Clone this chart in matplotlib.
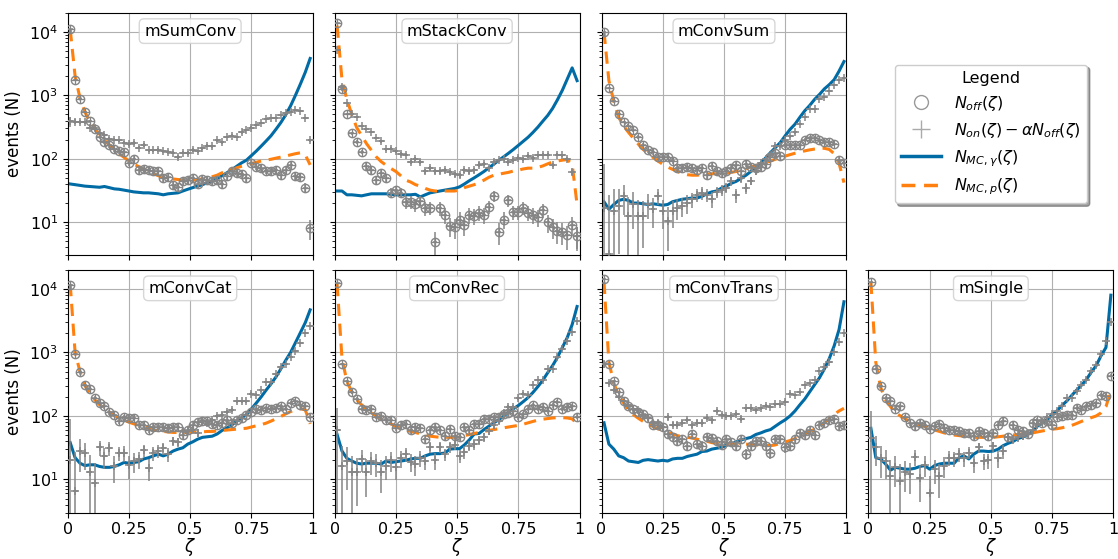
import matplotlib
matplotlib.use('Agg')

import numpy as np
import matplotlib.pyplot as plt
from matplotlib.lines import Line2D

# bin centres of zeta (50 bins)
zeta = np.linspace(0.01, 0.99, 50)
half_bin = 0.01

names = ['mSumConv', 'mStackConv', 'mConvSum', 'mConvCat', 'mConvRec', 'mConvTrans', 'mSingle']

# ---- mSumConv
sumconv_off = [11000, 1760, 860, 550, 390, 295, 220, 182, 162, 141, 131, 126, 85, 100, 66, 69, 66, 64, 64, 50,
               52, 38, 36, 44, 46, 49, 40, 48, 47, 44, 47, 40, 54, 63, 60, 58, 49, 86, 75, 71,
               65, 63, 66, 56, 66, 80, 54, 52, 35, 8]
sumconv_diff = [390, 385, 380, 375, 310, 300, 250, 240, 205, 200, 195, 180, 170, 178, 150, 165, 135, 135, 138, 130,
                128, 125, 108, 125, 125, 137, 130, 145, 160, 157, 194, 183, 220, 230, 220, 260, 285, 310, 340, 370,
                420, 445, 445, 490, 520, 540, 590, 565, 445, 195]
sumconv_gamma = [40, 39, 38, 37, 36.5, 36, 35.5, 36.5, 35, 33.5, 33, 32, 31, 30, 29.5, 29, 29, 28.5, 28, 27,
                 28, 28.5, 29, 31, 33, 35, 37, 39, 42, 45, 49, 54, 60, 67, 76, 86, 95, 112, 132, 158,
                 190, 230, 290, 370, 490, 680, 1000, 1500, 2300, 3800]
sumconv_p = [11000, 2000, 900, 550, 380, 300, 240, 195, 165, 140, 120, 105, 92, 82, 75, 68, 63, 58, 54, 51,
             49, 48, 47, 46, 46, 46, 47, 48, 49, 52, 55, 60, 64, 68, 72, 76, 80, 84, 88, 92,
             95, 98, 102, 106, 110, 115, 120, 124, 115, 80]

# ---- mStackConv
stackconv_off = [14000, 1260, 505, 252, 182, 128, 76, 66, 47, 59, 49, 29, 32, 29, 21, 21, 19, 21.5, 16.5, 17,
                 4.9, 16.5, 13, 8.8, 8.3, 11, 9, 13, 12.5, 14, 13, 17.5, 26, 7, 11, 22, 14.5, 14.5, 17, 14,
                 13, 12, 15.5, 10, 8.3, 7.3, 7, 6.2, 9, 6]
stackconv_diff = [5100, 1350, 760, 505, 450, 325, 295, 263, 212, 187, 141, 144, 131, 120, 116, 90, 100, 90, 64, 71,
                  63, 63, 66, 61, 57, 55, 66, 64, 66, 81, 84, 71, 90, 94, 100, 90, 95, 102, 100, 110,
                  102, 113, 116, 116, 79, 116, 113, 100, 61, 6]
stackconv_gamma = [31, 31, 27, 27, 26.5, 26, 27, 28, 28, 28, 28, 27.5, 27, 27, 27, 27, 27.5, 25, 27, 29,
                   30, 31, 32, 33, 34, 36, 40, 45, 50, 56, 63, 72, 82, 94, 107, 122, 140, 162, 188, 218,
                   260, 315, 390, 480, 620, 850, 1200, 1800, 2700, 1700]
stackconv_p = [12500, 1750, 860, 500, 310, 232, 173, 136, 107, 90, 79, 70, 63, 54, 46, 43, 39, 37, 34, 32,
               31, 31, 31, 31, 31, 32, 35, 37, 39, 42, 46, 51, 55, 57, 59, 61, 64, 66, 69, 71,
               71, 73, 77, 83, 89, 92, 95, 97, 82, 19]

# ---- mConvSum
convsum_off = [10000, 1300, 810, 505, 380, 330, 280, 218, 166, 135, 127, 107, 107, 107, 93, 71, 71, 75, 71, 66,
               72, 55, 78, 63, 59, 63, 71, 79, 64, 84, 75, 71, 75, 84, 107, 125, 110, 162, 162, 162,
               162, 195, 210, 210, 195, 183, 183, 173, 95, 85]
convsum_diff = [17, 3.2, 15, 18, 26, 12.6, 19, 12.6, 12.6, 19.5, 16, 26, 15, 10.5, 15, 17, 18, 20, 23, 27,
                29, 27, 23, 30, 32, 35, 44, 27, 49, 35, 45, 63, 85, 100, 113, 160, 160, 195, 225, 262,
                350, 450, 600, 600, 880, 950, 1160, 1470, 1760, 1870]
convsum_gamma = [21, 16, 19, 22, 23, 22, 20, 20, 19.5, 19, 19.5, 19, 18.5, 19, 21, 22, 23, 23.5, 24, 24,
                 25.5, 28, 30, 31, 34.5, 37, 41, 44, 49, 55, 63, 73, 85, 103, 125, 150, 180, 230, 290, 350,
                 450, 570, 690, 860, 1030, 1260, 1470, 1760, 2400, 3400]
convsum_p = [10000, 1700, 800, 450, 330, 260, 210, 170, 140, 120, 105, 92, 82, 74, 68, 63, 58, 56, 55, 55,
             56, 57, 58, 58, 58, 59, 61, 63, 66, 70, 74, 78, 82, 87, 92, 98, 104, 110, 116, 122,
             128, 133, 138, 142, 145, 146, 140, 120, 85, 42]

# ---- mConvCat
convcat_off = [11500, 950, 490, 305, 270, 190, 160, 141, 115, 105, 83, 95, 93, 93, 73, 71, 61, 66, 66, 66,
               64, 66, 66, 51, 59, 71, 80, 82, 82, 75, 73, 78, 87, 78, 87, 93, 105, 117, 129, 124,
               132, 129, 132, 141, 129, 160, 170, 150, 141, 98]
convcat_diff = [20, 6.6, 28, 26, 13, 8.8, 32, 23, 31, 16, 26, 26, 17, 19.5, 21, 29, 15, 26, 28, 31,
                25, 40, 39, 58, 58, 61, 54, 83, 78, 85, 100, 105, 117, 124, 170, 170, 170, 225, 215, 255,
                345, 345, 465, 590, 660, 840, 1070, 1400, 2050, 2600]
convcat_gamma = [38, 22, 18, 16.5, 17, 17, 16, 15.5, 15.5, 16, 17, 18.5, 18, 18.5, 19, 21, 22, 23.5, 25, 23.5,
                 25, 28, 30, 31.5, 36, 39, 43, 46, 47, 48, 52, 59, 65, 72, 83, 93, 106, 129, 160, 200,
                 255, 320, 410, 550, 750, 1000, 1430, 2050, 2950, 4700]
convcat_p = [12000, 1000, 500, 300, 230, 180, 150, 130, 115, 102, 92, 85, 80, 75, 71, 68, 64, 60, 58, 57,
             56, 55, 55, 55, 55, 56, 56, 56, 57, 57, 58, 59, 60, 61, 62, 63, 64, 67, 70, 73,
             77, 83, 90, 98, 108, 117, 126, 130, 125, 75]

# ---- mConvRec
convrec_off = [12500, 660, 355, 240, 185, 130, 125, 130, 98, 100, 87, 87, 65, 73, 75, 59, 68, 65, 44, 59,
               68, 61, 48, 63, 48, 46, 66, 61, 75, 75, 91, 91, 95, 98, 107, 112, 118, 95, 107, 130,
               148, 130, 140, 120, 148, 168, 130, 140, 145, 98]
convrec_diff = [61, 16.5, 19.5, 13, 13, 21, 13, 19.5, 18, 13, 16.5, 20, 15.5, 21.5, 25, 19, 17.5, 22, 19.5, 32,
                20, 32, 25, 32, 35, 23.5, 27.5, 34, 36, 42, 46, 58, 71, 83, 110, 140, 140, 190, 225, 215,
                310, 365, 365, 550, 550, 840, 1130, 1520, 2100, 3100]
convrec_gamma = [51, 28, 21.5, 19.5, 18, 17.5, 18, 18, 18, 17.5, 19.5, 18.5, 19, 19.5, 20, 21, 21.5, 21.5, 23.5, 25,
                 25.5, 25.5, 26, 30, 30.5, 30.5, 35, 42, 52, 53, 61, 69, 78, 87, 100, 114, 130, 146, 168, 195,
                 235, 290, 365, 480, 620, 840, 1200, 1720, 2750, 5300]
convrec_p = [12000, 800, 350, 240, 180, 150, 128, 112, 100, 90, 82, 75, 68, 63, 60, 57, 55, 52, 50, 48,
             47, 46, 46, 46, 46, 47, 49, 51, 53, 55, 57, 59, 61, 63, 65, 67, 69, 71, 74, 78,
             82, 86, 89, 91, 93, 94, 94, 93, 90, 75]

# ---- mConvTrans
convtrans_off = [14600, 660, 355, 235, 173, 141, 130, 117, 107, 93, 73, 71, 66, 52, 46, 40, 43, 34, 52, 36,
                 34, 46, 45, 40, 35, 43, 39, 34, 43, 25, 34, 40, 40, 34, 26, 43, 43, 32, 34, 43,
                 54, 51, 59, 51, 73, 78, 87, 90, 69, 73]
convtrans_diff = [660, 330, 255, 200, 170, 150, 130, 125, 100, 94, 78, 78, 66, 95, 73, 73, 78, 87, 71, 78,
                  78, 93, 85, 120, 105, 100, 100, 108, 91, 132, 132, 125, 132, 145, 140, 152, 152, 168, 225, 215,
                  235, 305, 325, 365, 520, 590, 700, 1000, 1470, 2000]
convtrans_gamma = [78, 36, 30, 23.5, 22, 19.5, 19, 18.5, 20, 20.5, 20, 19.5, 20, 19.5, 21, 21.5, 21.5, 23, 24, 25,
                   27.5, 28, 30, 31, 32, 34.5, 36, 39, 42, 44, 46, 51, 54, 58, 61, 69, 78, 87, 100, 120,
                   150, 185, 240, 310, 400, 550, 800, 1270, 2300, 6300]
convtrans_p = [13000, 700, 330, 210, 160, 125, 105, 92, 82, 74, 68, 63, 59, 55, 52, 49, 47, 46, 45, 43,
               41, 40, 38, 37, 36, 36, 36, 36, 36, 36, 35.5, 35, 35, 34.5, 34, 35, 37, 39, 41, 44,
               47, 51, 56, 62, 69, 78, 90, 105, 120, 132]

# ---- mSingle
single_off = [13000, 550, 295, 195, 170, 130, 141, 95, 78, 69, 78, 73, 63, 69, 75, 64, 61, 61, 58, 54,
              54, 48, 58, 54, 48, 54, 73, 83, 47, 71, 61, 58, 52, 78, 85, 78, 82, 71, 95, 100,
              105, 105, 135, 125, 141, 150, 160, 215, 205, 430]
single_diff = [45, 32, 22, 19.5, 11.5, 15.5, 9.6, 13, 12, 22.5, 10.5, 17, 6, 14.5, 11.2, 16.5, 22, 21.5, 25, 21.5,
               26.5, 18, 32, 19.5, 20, 33.5, 21.5, 28, 47, 43, 46, 48, 54, 61, 71, 83, 95, 108, 120, 146,
               190, 195, 245, 305, 375, 520, 640, 940, 1520, 3000]
single_gamma = [64, 22, 21, 17.5, 14, 15.5, 15, 14.5, 14.5, 15, 16, 16.5, 14.5, 16.5, 17.5, 18, 18, 18, 22, 23.5,
                21, 25, 28, 28, 27.5, 28, 30, 34, 37, 39.5, 44, 46.5, 51, 57, 69, 78, 87, 105, 120, 146,
                172, 210, 255, 305, 375, 490, 620, 890, 1200, 8000]
single_p = [13000, 700, 280, 180, 140, 115, 100, 90, 82, 76, 72, 68, 64, 60, 57, 54, 52, 50, 49, 48,
            47, 46, 46, 46, 46, 46, 47, 48, 49, 50, 51, 52, 53, 54, 56, 58, 60, 62, 63, 65,
            68, 71, 76, 82, 88, 94, 100, 112, 140, 250]

panels = [
    (sumconv_off, sumconv_diff, sumconv_gamma, sumconv_p),
    (stackconv_off, stackconv_diff, stackconv_gamma, stackconv_p),
    (convsum_off, convsum_diff, convsum_gamma, convsum_p),
    (convcat_off, convcat_diff, convcat_gamma, convcat_p),
    (convrec_off, convrec_diff, convrec_gamma, convrec_p),
    (convtrans_off, convtrans_diff, convtrans_gamma, convtrans_p),
    (single_off, single_diff, single_gamma, single_p),
]
slots = [(0, 0), (0, 1), (0, 2), (1, 0), (1, 1), (1, 2), (1, 3)]

blue = '#006BA4'
orange = '#FF800E'
grey = '#858585'

fig, axes = plt.subplots(2, 4, figsize=(11.18, 5.59), dpi=100, sharex=True, sharey=True)
fig.subplots_adjust(left=0.0606, right=0.9958, top=0.9773, bottom=0.083, wspace=0.09, hspace=0.06)


def asym(val, err):
    # keep the lower bar positive on the log axis
    lo = np.minimum(err, val - 1e-3)
    return [lo, err]


for name, rc, data in zip(names, slots, panels):
    off, diff, gam, prot = [np.asarray(d, dtype=float) for d in data]
    ax = axes[rc]
    err_off = np.sqrt(off)
    err_diff = 0.65 * np.sqrt(diff + off)

    ax.plot(zeta, gam, color=blue, lw=2.2, zorder=2)
    ax.plot(zeta, prot, color=orange, lw=2.2, ls=(0, (4, 2.5)), zorder=2)

    ax.errorbar(zeta, diff, xerr=half_bin, yerr=asym(diff, err_diff), fmt='+', ms=5.5, mew=1.1,
                color=grey, ecolor=grey, elinewidth=1.1, zorder=3)
    ax.errorbar(zeta, off, xerr=half_bin, yerr=asym(off, err_off), fmt='o', ms=6,
                mfc='none', mec=grey, mew=1.0, ecolor=grey, elinewidth=1.1, zorder=3)
    ax.plot(zeta, off, ls='none', marker='+', ms=6, mew=0.9, color=grey, zorder=3)

    ax.set_yscale('log')
    ax.set_ylim(3, 2e4)
    ax.set_xlim(0, 1)
    ax.grid(True, which='major', color='#b0b0b0', lw=0.8)
    ax.set_axisbelow(True)
    ax.text(0.5, 0.955, name, transform=ax.transAxes, ha='center', va='top', fontsize=11.5,
            bbox=dict(boxstyle='round,pad=0.3', fc='white', ec='#d0d0d0', alpha=0.85))

for ax in axes.flat:
    ax.tick_params(labelsize=11.5)

axes[1, 0].set_xticks([0, 0.25, 0.5, 0.75, 1])
axes[1, 0].set_xticklabels(['0', '0.25', '0.5', '0.75', '1'])
for c in range(4):
    axes[1, c].set_xlabel(r'$\zeta$', fontsize=12, labelpad=-1)
for r in range(2):
    axes[r, 0].set_ylabel('events (N)', fontsize=12)

ax_leg = axes[0, 3]
ax_leg.axis('off')
handles = [
    Line2D([], [], ls='none', marker='o', ms=10, mfc='none', mec='#999999', mew=1.0),
    Line2D([], [], ls='none', marker='+', ms=13, mec='#aaaaaa', mew=1.0),
    Line2D([], [], color=blue, lw=2.5),
    Line2D([], [], color=orange, lw=2.5, ls=(0, (4, 2.5))),
]
labels = [r'$N_{off}(\zeta)$', r'$N_{on}(\zeta) - \alpha N_{off}(\zeta)$',
          r'$N_{MC,\gamma}(\zeta)$', r'$N_{MC,p}(\zeta)$']
leg = ax_leg.legend(handles, labels, loc='center', title='Legend', fontsize=11.5,
                    title_fontsize=11.5, shadow=True, fancybox=True, framealpha=1,
                    edgecolor='#cccccc', handlelength=2.5)

plt.savefig('out.png', dpi=100)
plt.clf()
